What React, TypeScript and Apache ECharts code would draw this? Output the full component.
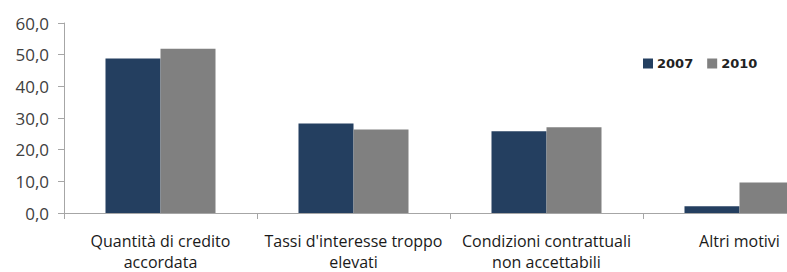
import React, { useEffect, useRef } from "react";
import * as echarts from "echarts";

const categories = [
  "Quantità di credito\naccordata",
  "Tassi d'interesse troppo\nelevati",
  "Condizioni contrattuali\nnon accettabili",
  "Altri motivi",
];
const series2007 = [48.8, 28.3, 25.8, 2.1];
const series2010 = [51.9, 26.4, 27.1, 9.6];
const yTicks = { min: 0, max: 60, interval: 10 };

const FONT = "'Open Sans', 'Noto Sans', sans-serif";

export default function App() {
  const ref = useRef<HTMLDivElement>(null);
  useEffect(() => {
    document.body.style.margin = "0";
    const chart = echarts.init(ref.current!, null, { renderer: "svg" });
    chart.setOption({
      animation: false,
      backgroundColor: "#ffffff",
      grid: { left: 64, width: 772, top: 23, bottom: 59, outerBoundsMode: "none", containLabel: false },
      legend: {
        data: ["2007", "2010"],
        left: 638,
        top: 52,
        itemWidth: 10,
        itemHeight: 10,
        itemGap: 14,
        icon: "rect",
        textStyle: {
          fontFamily: "'DejaVu Sans', sans-serif",
          fontWeight: "bold",
          fontSize: 13,
          color: "#222",
          padding: [0, 0, 0, -1],
        },
      },
      xAxis: {
        type: "category",
        data: categories,
        axisLine: { lineStyle: { color: "#a6a6a6", width: 1 } },
        axisTick: { show: true, length: 6, lineStyle: { color: "#a6a6a6" } },
        axisLabel: {
          interval: 0,
          margin: 17,
          fontFamily: FONT,
          fontSize: 16,
          lineHeight: 21,
          color: "#1a1a1a",
        },
      },
      yAxis: {
        type: "value",
        min: yTicks.min,
        max: yTicks.max,
        interval: yTicks.interval,
        splitLine: { show: false },
        axisLine: { show: true, lineStyle: { color: "#a6a6a6" } },
        axisTick: { show: true, length: 6, lineStyle: { color: "#a6a6a6" } },
        axisLabel: {
          margin: 15,
          fontFamily: FONT,
          fontSize: 17,
          color: "#404040",
          formatter: (v: number) => v.toFixed(1).replace(".", ","),
        },
      },
      series: [
        {
          name: "2007",
          type: "bar",
          data: series2007,
          barGap: "0%",
          barCategoryGap: "43%",
          itemStyle: { color: "#243f60" },
        },
        {
          name: "2010",
          type: "bar",
          data: series2010,
          itemStyle: { color: "#808080" },
        },
      ],
    });
    return () => chart.dispose();
  }, []);
  return <div ref={ref} style={{ width: 787, height: 272, overflow: "hidden" }} />;
}
